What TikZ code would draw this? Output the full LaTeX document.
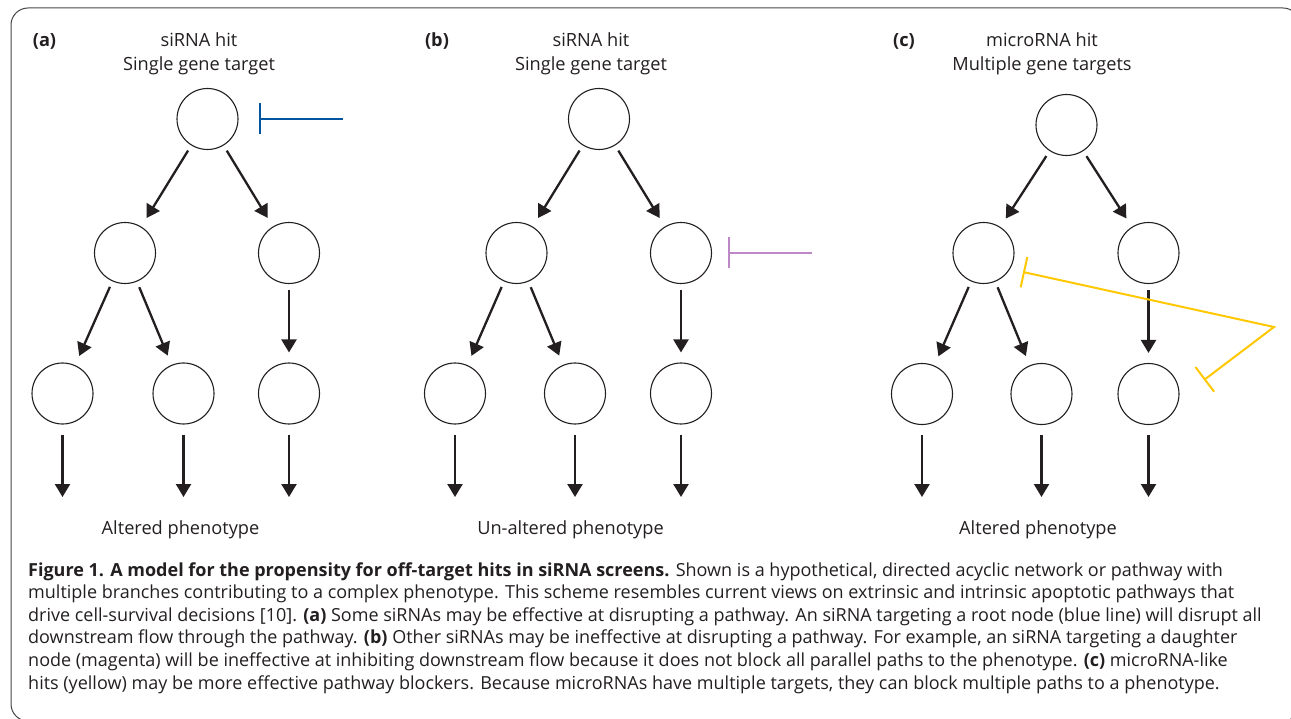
\documentclass[tikz,border=0pt]{standalone}
\usepackage{fontspec}
\setmainfont{Open Sans}
\usetikzlibrary{arrows.meta}
\definecolor{inkblack}{RGB}{35,31,32}
\definecolor{hitblue}{RGB}{0,84,160}
\definecolor{hitpurple}{RGB}{190,135,200}
\definecolor{hityellow}{RGB}{255,200,0}
\definecolor{framegray}{RGB}{70,70,70}
\begin{document}
\begin{tikzpicture}[x=1pt,y=-1pt,
  gene/.style={circle,draw=inkblack,line width=1.1pt,minimum size=61pt,inner sep=0pt},
  flow/.style={draw=inkblack,line width=2.3pt,-{Triangle[length=13pt,width=15pt]},shorten <=6pt,shorten >=10pt},
  outflow/.style={draw=inkblack,line width=2.3pt,-{Triangle[length=13pt,width=15pt]},shorten <=10pt},
  inhib/.style={line width=2pt,-{Bar[width=31pt]}},
  lbl/.style={font=\fontsize{18.2}{24}\selectfont,inner sep=0pt,text=inkblack,align=center,anchor=base},
  plabel/.style={font=\fontsize{18.2}{24}\selectfont\bfseries,inner sep=0pt,text=inkblack,anchor=base},
  capline/.style={font=\fontsize{18}{22}\selectfont,inner sep=0pt,text=inkblack,anchor=base west}]
\useasboundingbox (0,0) rectangle (1291,719);
\draw[framegray,line width=1pt,rounded corners=17pt] (11,8) rectangle (1300,721);

% ---------- panel (a)
\node[plabel] (pa) at (44.5,47) {(a)};
\node[lbl] (ta) at (199,71) {siRNA hit\\Single gene target};
\node[gene] (a0) at (207.5,119) {};
\node[gene] (a1) at (125,253) {};
\node[gene] (a2) at (289,253) {};
\node[gene] (a3) at (62.5,393.5) {};
\node[gene] (a4) at (183.5,393.5) {};
\node[gene] (a5) at (289,393.5) {};
\coordinate (ae3) at (62.5,497);
\coordinate (ae4) at (183.5,497);
\coordinate (ae5) at (289,497);
\draw[flow] (a0) -- (a1);
\draw[flow] (a0) -- (a2);
\draw[flow] (a1) -- (a3);
\draw[flow] (a1) -- (a4);
\draw[flow] (a2) -- (a5);
\draw[outflow] (a3.south) -- (ae3);
\draw[outflow] (a4.south) -- (ae4);
\draw[outflow] (a5.south) -- (ae5);
\coordinate (bluefree) at (343,119);
\coordinate (bluebar) at (259,119);
\draw[inhib,hitblue] (bluefree) -- (bluebar);
\node[lbl] (oa) at (180.5,534) {Altered phenotype};

% ---------- panel (b)
\node[plabel] (pb) at (437,47) {(b)};
\node[lbl] (tb) at (591,71) {siRNA hit\\Single gene target};
\node[gene] (b0) at (599,119) {};
\node[gene] (b1) at (516.5,253) {};
\node[gene] (b2) at (681,253) {};
\node[gene] (b3) at (455,393.5) {};
\node[gene] (b4) at (575,393.5) {};
\node[gene] (b5) at (681,393.5) {};
\coordinate (be3) at (455,497);
\coordinate (be4) at (575,497);
\coordinate (be5) at (681,497);
\draw[flow] (b0) -- (b1);
\draw[flow] (b0) -- (b2);
\draw[flow] (b1) -- (b3);
\draw[flow] (b1) -- (b4);
\draw[flow] (b2) -- (b5);
\draw[outflow] (b3.south) -- (be3);
\draw[outflow] (b4.south) -- (be4);
\draw[outflow] (b5.south) -- (be5);
\coordinate (purplefree) at (812,253);
\coordinate (purplebar) at (728,253);
\draw[inhib,hitpurple] (purplefree) -- (purplebar);
\node[lbl] (ob) at (570.5,534) {Un-altered phenotype};

% ---------- panel (c)
\node[plabel] (pc) at (904,47) {(c)};
\node[lbl] (tc) at (1042,71) {microRNA hit\\Multiple gene targets};
\node[gene] (c0) at (1066.5,125) {};
\node[gene] (c1) at (983.5,253) {};
\node[gene] (c2) at (1148.5,253) {};
\node[gene] (c3) at (922,394) {};
\node[gene] (c4) at (1041.5,394) {};
\node[gene] (c5) at (1148.5,394) {};
\coordinate (ce3) at (922,497);
\coordinate (ce4) at (1041.5,497);
\coordinate (ce5) at (1148.5,497);
\draw[flow] (c0) -- (c1);
\draw[flow] (c0) -- (c2);
\draw[flow] (c1) -- (c3);
\draw[flow] (c1) -- (c4);
\draw[flow] (c2) -- (c5);
\draw[outflow] (c3.south) -- (ce3);
\draw[outflow] (c4.south) -- (ce4);
\draw[outflow] (c5.south) -- (ce5);
\coordinate (ybar1) at (1023,272);
\coordinate (ycorner) at (1274,327);
\coordinate (ybar2) at (1204,380);
\draw[line width=2pt,hityellow,{Bar[width=31pt]}-{Bar[width=31pt]}] (ybar1) -- (ycorner) -- (ybar2);
\node[lbl] (oc) at (1038,534) {Altered phenotype};

% ---------- caption
\node[capline] (cap1) at (28,576) {\textbf{Figure 1. A model for the propensity for off-target hits in siRNA screens.} Shown is a hypothetical, directed acyclic network or pathway with};
\node[capline] (cap2) at (28,598.6) {multiple branches contributing to a complex phenotype. This scheme resembles current views on extrinsic and intrinsic apoptotic pathways that};
\node[capline] (cap3) at (28,621.2) {drive cell-survival decisions [10]. \textbf{(a)} Some siRNAs may be effective at disrupting a pathway. An siRNA targeting a root node (blue line) will disrupt all};
\node[capline] (cap4) at (28,643.8) {downstream flow through the pathway. \textbf{(b)} Other siRNAs may be ineffective at disrupting a pathway. For example, an siRNA targeting a daughter};
\node[capline] (cap5) at (28,666.4) {node (magenta) will be ineffective at inhibiting downstream flow because it does not block all parallel paths to the phenotype. \textbf{(c)} microRNA-like};
\node[capline] (cap6) at (28,689) {hits (yellow) may be more effective pathway blockers. Because microRNAs have multiple targets, they can block multiple paths to a phenotype.};
\end{tikzpicture}
\end{document}
